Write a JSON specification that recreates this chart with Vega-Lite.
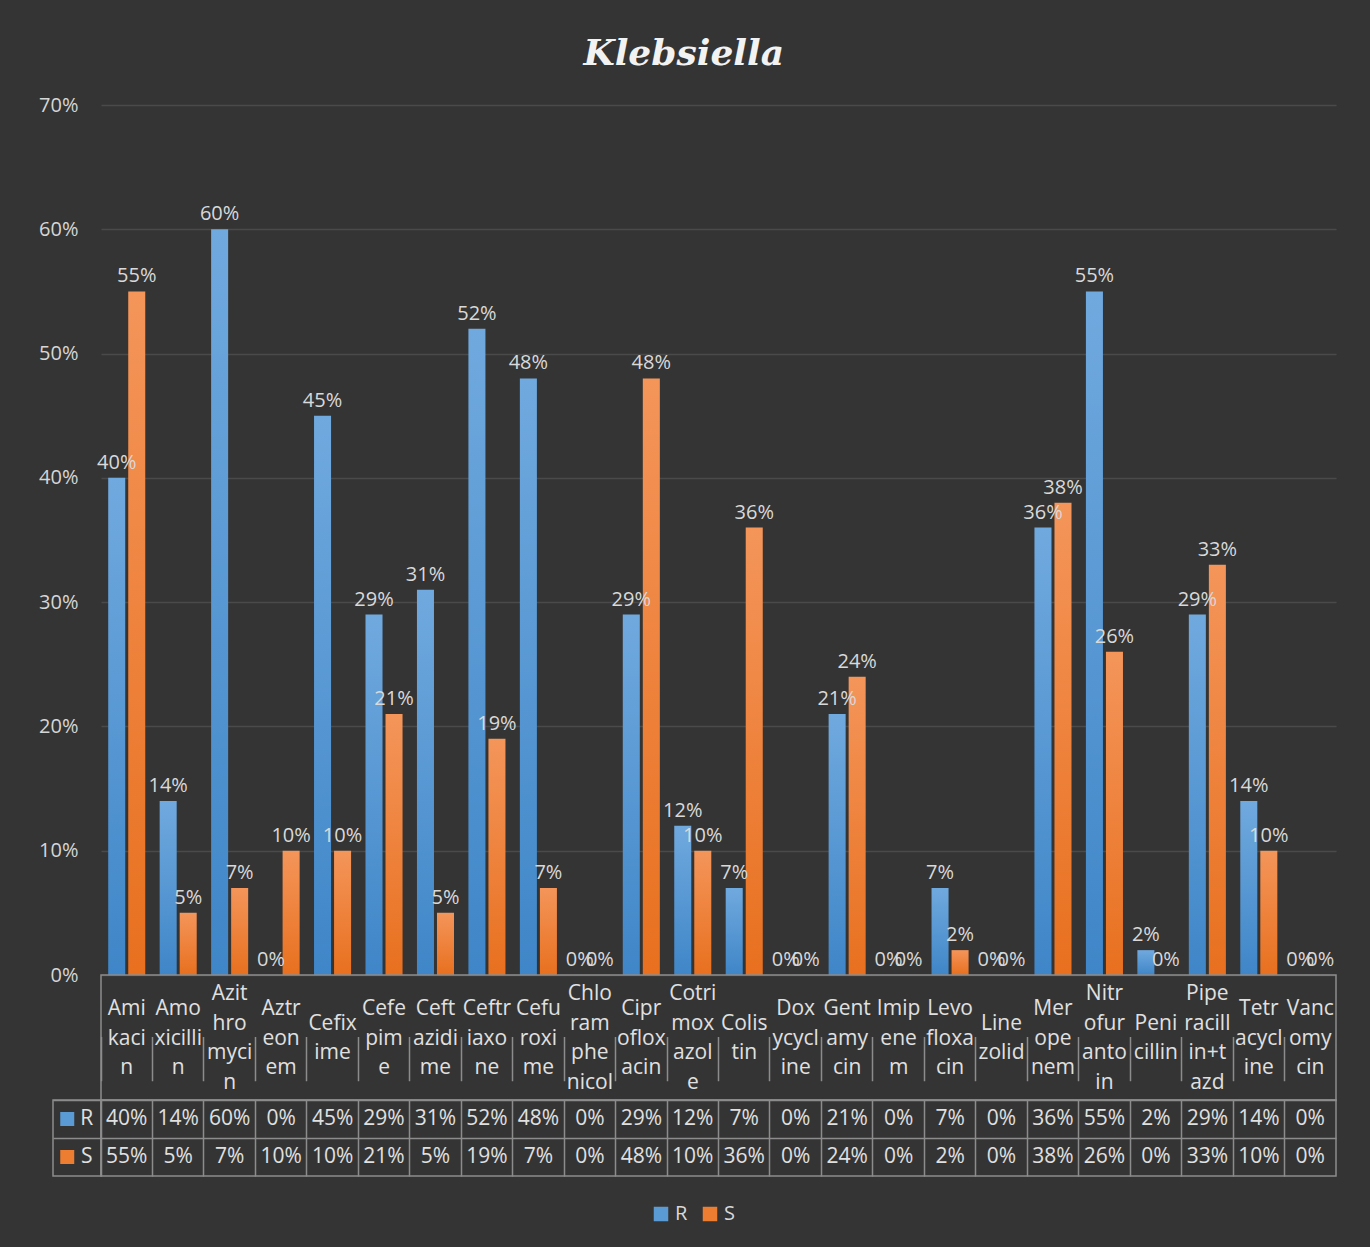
{
  "$schema": "https://vega.github.io/schema/vega-lite/v6.json",
  "background": "#343434",
  "padding": {"left": 38, "top": 36, "right": 35, "bottom": 27},
  "title": {"text": "Klebsiella", "font": "DejaVu Serif", "fontStyle": "italic", "fontWeight": "bold", "fontSize": 36, "color": "#f2f2f2", "anchor": "middle", "dx": -4, "offset": -6, "baseline": "alphabetic"},
  "datasets": {
    "drugs": [
      {"drug": "Amikacin", "lines": "Ami|kaci|n", "R": 0.40, "S": 0.55},
      {"drug": "Amoxicillin", "lines": "Amo|xicilli|n", "R": 0.14, "S": 0.05},
      {"drug": "Azithromycin", "lines": "Azit|hro|myci|n", "R": 0.60, "S": 0.07},
      {"drug": "Aztreonem", "lines": "Aztr|eon|em", "R": 0.0, "S": 0.10},
      {"drug": "Cefixime", "lines": "Cefix|ime", "R": 0.45, "S": 0.10},
      {"drug": "Cefepime", "lines": "Cefe|pim|e", "R": 0.29, "S": 0.21},
      {"drug": "Ceftazidime", "lines": "Ceft|azidi|me", "R": 0.31, "S": 0.05},
      {"drug": "Ceftriaxone", "lines": "Ceftr|iaxo|ne", "R": 0.52, "S": 0.19},
      {"drug": "Cefuroxime", "lines": "Cefu|roxi|me", "R": 0.48, "S": 0.07},
      {"drug": "Chloramphenicol", "lines": "Chlo|ram|phe|nicol", "R": 0.0, "S": 0.0},
      {"drug": "Ciprofloxacin", "lines": "Cipr|oflox|acin", "R": 0.29, "S": 0.48},
      {"drug": "Cotrimoxazole", "lines": "Cotri|mox|azol|e", "R": 0.12, "S": 0.10},
      {"drug": "Colistin", "lines": "Colis|tin", "R": 0.07, "S": 0.36},
      {"drug": "Doxycycline", "lines": "Dox|ycycl|ine", "R": 0.0, "S": 0.0},
      {"drug": "Gentamycin", "lines": "Gent|amy|cin", "R": 0.21, "S": 0.24},
      {"drug": "Imipenem", "lines": "Imip|ene|m", "R": 0.0, "S": 0.0},
      {"drug": "Levofloxacin", "lines": "Levo|floxa|cin", "R": 0.07, "S": 0.02},
      {"drug": "Linezolid", "lines": "Line|zolid", "R": 0.0, "S": 0.0},
      {"drug": "Meropenem", "lines": "Mer|ope|nem", "R": 0.36, "S": 0.38},
      {"drug": "Nitrofurantoin", "lines": "Nitr|ofur|anto|in", "R": 0.55, "S": 0.26},
      {"drug": "Penicillin", "lines": "Peni|cillin", "R": 0.02, "S": 0.0},
      {"drug": "Piperacillin+tazd", "lines": "Pipe|racill|in+t|azd", "R": 0.29, "S": 0.33},
      {"drug": "Tetracycline", "lines": "Tetr|acycl|ine", "R": 0.14, "S": 0.10},
      {"drug": "Vancomycin", "lines": "Vanc|omy|cin", "R": 0.0, "S": 0.0}
    ],
    "keys": [{"series": "R"}, {"series": "S"}]
  },
  "columns": 2,
  "spacing": 0,
  "bounds": "flush",
  "resolve": {
    "scale": {"x": "independent", "y": "independent", "color": "shared"},
    "axis": {"x": "independent", "y": "independent"},
    "legend": {"color": "shared"}
  },
  "concat": [
    {
      "width": 48, "height": 870,
      "data": {"values": [{}]},
      "mark": {"type": "text"},
      "encoding": {"text": {"value": ""}}
    },
    {
      "width": 1235, "height": 870,
      "data": {"name": "drugs"},
      "transform": [{"fold": ["R", "S"], "as": ["series", "value"]}],
      "encoding": {
        "x": {"field": "drug", "type": "nominal", "sort": null, "axis": null,
              "scale": {"paddingInner": 0.28, "paddingOuter": 0.14}},
        "xOffset": {"field": "series", "type": "nominal", "scale": {"domain": ["R", "S"], "paddingInner": 0.15, "paddingOuter": 0}},
        "y": {"field": "value", "type": "quantitative",
              "scale": {"domain": [0, 0.7], "nice": false, "zero": true},
              "axis": {"values": [0, 0.1, 0.2, 0.3, 0.4, 0.5, 0.6, 0.7], "format": ".0%", "title": null,
                       "labelFontSize": 20, "labelColor": "#d6d6d6", "labelPadding": 23, "labelFont": "Open Sans",
                       "ticks": false, "domain": false, "gridColor": "#4a4a4a", "gridWidth": 1.5}}
      },
      "layer": [
        {
          "mark": {"type": "bar"},
          "encoding": {
            "fill": {
              "condition": {"test": "datum.series === 'R'", "value": {"gradient": "linear", "x1": 0, "y1": 0, "x2": 0, "y2": 1, "stops": [{"offset": 0, "color": "#70a9de"}, {"offset": 1, "color": "#3f86c8"}]}},
              "value": {"gradient": "linear", "x1": 0, "y1": 0, "x2": 0, "y2": 1, "stops": [{"offset": 0, "color": "#f4955a"}, {"offset": 1, "color": "#e8701f"}]}
            }
          }
        },
        {
          "mark": {"type": "text", "baseline": "alphabetic", "dy": -9, "fontSize": 20, "color": "#d9d9d9", "font": "Open Sans"},
          "encoding": {"text": {"field": "value", "type": "quantitative", "format": ".0%"}}
        }
      ]
    },
    {
      "width": 48, "height": 125,
      "data": {"values": [{}]},
      "mark": {"type": "text"},
      "encoding": {"text": {"value": ""}}
    },
    {
      "width": 1235, "height": 125,
      "view": {"stroke": "#8c8c8c", "strokeWidth": 1.5},
      "data": {"name": "drugs"},
      "transform": [{"calculate": "length(split(datum.lines, '|'))", "as": "nlines"}],
      "mark": {"type": "text", "lineBreak": "|", "lineHeight": 29.5, "fontSize": 21, "color": "#e0e0e0", "font": "Open Sans", "baseline": "middle", "align": "center"},
      "encoding": {
        "x": {"field": "drug", "type": "nominal", "sort": null,
              "scale": {"type": "band", "paddingInner": 0, "paddingOuter": 0},
              "axis": {"title": null, "labels": false, "ticks": false, "domain": false, "grid": true, "bandPosition": 0, "gridColor": "#8c8c8c", "gridWidth": 1.5}},
        "y": {"field": "nlines", "type": "quantitative", "scale": {"domain": [1, 4], "range": [63.5, 19.25], "zero": false, "nice": false}, "axis": null},
        "text": {"field": "lines", "type": "nominal"}
      }
    },
    {
      "width": 48, "height": 76,
      "view": {"stroke": "#8c8c8c", "strokeWidth": 1.5},
      "data": {"name": "keys"},
      "encoding": {
        "y": {"field": "series", "type": "nominal",
              "scale": {"type": "band", "domain": ["R", "S"], "paddingInner": 0, "paddingOuter": 0},
              "axis": {"title": null, "labels": false, "ticks": false, "domain": false, "grid": true, "bandPosition": 0, "gridColor": "#8c8c8c", "gridWidth": 1.5}}
      },
      "layer": [
        {
          "mark": {"type": "point", "shape": "square", "filled": true, "size": 196, "opacity": 1},
          "encoding": {
            "x": {"datum": "sq", "type": "nominal", "scale": {"type": "point", "domain": ["sq", "txt"], "padding": 0.73}, "axis": null},
            "color": {"field": "series", "type": "nominal",
                      "scale": {"domain": ["R", "S"], "range": ["#5b9bd5", "#ed7d31"]},
                      "legend": {"orient": "none", "legendX": 598, "legendY": 1099, "direction": "horizontal", "title": null,
                                 "symbolType": "square", "symbolSize": 210, "symbolStrokeWidth": 0, "symbolOpacity": 1,
                                 "labelFontSize": 20, "labelColor": "#d9d9d9", "labelFont": "Open Sans",
                                 "columnPadding": 12, "labelOffset": 4}}
          }
        },
        {
          "mark": {"type": "text", "fontSize": 21, "color": "#e0e0e0", "font": "Open Sans", "baseline": "middle", "align": "center"},
          "encoding": {
            "x": {"datum": "txt", "type": "nominal", "scale": {"type": "point", "domain": ["sq", "txt"], "padding": 0.73}, "axis": null},
            "text": {"field": "series", "type": "nominal"}
          }
        }
      ]
    },
    {
      "width": 1235, "height": 76,
      "view": {"stroke": "#8c8c8c", "strokeWidth": 1.5},
      "data": {"name": "drugs"},
      "transform": [{"fold": ["R", "S"], "as": ["series", "value"]}],
      "mark": {"type": "text", "fontSize": 21, "color": "#e0e0e0", "font": "Open Sans", "baseline": "middle", "align": "center"},
      "encoding": {
        "x": {"field": "drug", "type": "nominal", "sort": null,
              "scale": {"type": "band", "paddingInner": 0, "paddingOuter": 0},
              "axis": {"title": null, "labels": false, "ticks": false, "domain": false, "grid": true, "bandPosition": 0, "gridColor": "#8c8c8c", "gridWidth": 1.5}},
        "y": {"field": "series", "type": "nominal",
              "scale": {"type": "band", "domain": ["R", "S"], "paddingInner": 0, "paddingOuter": 0},
              "axis": {"title": null, "labels": false, "ticks": false, "domain": false, "grid": true, "bandPosition": 0, "gridColor": "#8c8c8c", "gridWidth": 1.5}},
        "text": {"field": "value", "type": "quantitative", "format": ".0%"}
      }
    }
  ],
  "config": {
    "font": "Open Sans",
    "view": {"stroke": null}
  }
}
